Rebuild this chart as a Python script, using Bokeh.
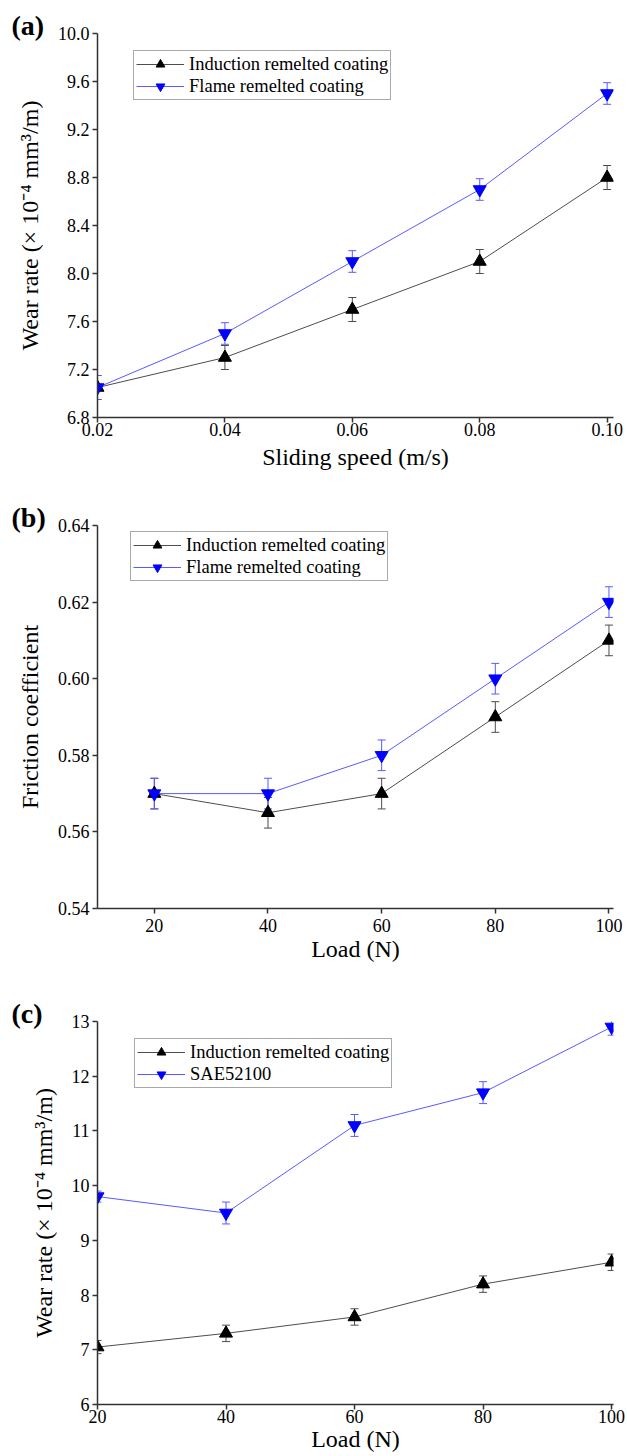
from bokeh.plotting import figure
from bokeh.models import (ColumnDataSource, Whisker, TeeHead, Legend, LegendItem, Title,
                          FixedTicker, PrintfTickFormatter, Range1d)
from bokeh.layouts import column
from bokeh.embed import file_html
from bokeh.resources import INLINE

SERIF = "'Liberation Serif', 'Times New Roman', serif"

# ---- data ----
speed = [0.02, 0.04, 0.06, 0.08, 0.10]
a_induction = [7.05, 7.30, 7.70, 8.10, 8.80]
a_induction_err = [0.10, 0.10, 0.10, 0.10, 0.10]
a_flame = [7.05, 7.50, 8.10, 8.70, 9.50]
a_flame_err = [0.10, 0.09, 0.09, 0.09, 0.09]
a_xticks = [0.02, 0.04, 0.06, 0.08, 0.10]
a_yticks = [6.8, 7.2, 7.6, 8.0, 8.4, 8.8, 9.2, 9.6, 10.0]

load = [20, 40, 60, 80, 100]
b_induction = [0.570, 0.565, 0.570, 0.590, 0.610]
b_induction_err = [0.004, 0.004, 0.004, 0.004, 0.004]
b_flame = [0.570, 0.570, 0.580, 0.600, 0.620]
b_flame_err = [0.004, 0.004, 0.004, 0.004, 0.004]
b_xticks = [20, 40, 60, 80, 100]
b_yticks = [0.54, 0.56, 0.58, 0.60, 0.62, 0.64]

c_induction = [7.05, 7.30, 7.60, 8.20, 8.60]
c_induction_err = [0.12, 0.15, 0.15, 0.15, 0.15]
c_sae = [9.80, 9.50, 11.10, 11.70, 12.90]
c_sae_err = [0.10, 0.20, 0.20, 0.20, 0.15]
c_xticks = [20, 40, 60, 80, 100]
c_yticks = [6, 7, 8, 9, 10, 11, 12, 13]

WEAR_LABEL = "Wear rate (\u00d7 10\u207b\u2074 mm\u00b3/m)"

BLACK_LINE = "#4d4d4d"
BLUE_LINE = "#5a5aff"
BLUE = "#0000ff"


def make_panel(x, y1, e1, y2, e2, name1, name2, xr, yr, xticks, yticks, xfmt, yfmt,
               xlabel, ylabel, tag, h, top, bottom, legend_xy, xstand, xlstand):
    p = figure(width=627, height=h, output_backend="svg", toolbar_location=None,
               x_range=Range1d(*xr), y_range=Range1d(*yr),
               min_border_left=97, min_border_right=14,
               min_border_top=top, min_border_bottom=bottom)
    p.grid.visible = False
    p.outline_line_color = None
    p.background_fill_color = "white"
    p.border_fill_color = "white"

    title = Title(text=tag, align="left", offset=-86, standoff=0,
                  text_font=SERIF, text_font_size="28px", text_font_style="bold",
                  text_color="black", vertical_align="bottom")
    try:
        title.standoff = -14
    except Exception:
        title.standoff = 0
    p.title = title

    for ax in (p.xaxis[0], p.yaxis[0]):
        ax.axis_line_color = "#333333"
        ax.axis_line_width = 1.5
        ax.major_tick_line_color = "#333333"
        ax.major_tick_line_width = 1.5
        ax.major_tick_in = 0
        ax.major_tick_out = 5
        ax.minor_tick_line_color = None
        ax.major_label_text_font = SERIF
        ax.major_label_text_font_size = "18px"
        ax.major_label_text_color = "black"
        ax.axis_label_text_font = SERIF
        ax.axis_label_text_font_size = "24px"
        ax.axis_label_text_font_style = "normal"
        ax.axis_label_text_color = "black"
    p.xaxis[0].ticker = FixedTicker(ticks=xticks)
    p.yaxis[0].ticker = FixedTicker(ticks=yticks)
    p.xaxis[0].formatter = PrintfTickFormatter(format=xfmt)
    p.yaxis[0].formatter = PrintfTickFormatter(format=yfmt)
    p.xaxis[0].major_label_standoff = xstand
    p.yaxis[0].major_label_standoff = 3
    p.xaxis[0].axis_label_standoff = xlstand
    p.yaxis[0].axis_label_standoff = 12
    p.xaxis[0].axis_label = xlabel
    p.yaxis[0].axis_label = ylabel

    renderers = []
    for vals, errs, lc, mc, marker in ((y1, e1, BLACK_LINE, "black", "triangle"),
                                       (y2, e2, BLUE_LINE, BLUE, "inverted_triangle")):
        src = ColumnDataSource(dict(x=x, y=vals,
                                    upper=[v + e for v, e in zip(vals, errs)],
                                    lower=[v - e for v, e in zip(vals, errs)]))
        w = Whisker(base="x", upper="upper", lower="lower", source=src, dimension="height",
                    line_color=lc, line_width=1, level="underlay",
                    upper_head=TeeHead(size=8, line_color=lc, line_width=1),
                    lower_head=TeeHead(size=8, line_color=lc, line_width=1))
        p.add_layout(w)
        ln = p.line("x", "y", source=src, line_color=lc, line_width=1)
        sc = p.scatter("x", "y", source=src, marker=marker, size=13,
                       fill_color=mc, line_color=mc)
        renderers.append([ln, sc])

    legend = Legend(items=[LegendItem(label=name1, renderers=renderers[0]),
                           LegendItem(label=name2, renderers=renderers[1])],
                    location=legend_xy, label_text_font=SERIF, label_text_font_size="18.5px",
                    label_text_color="black",
                    glyph_width=48, glyph_height=22, label_height=18, label_standoff=5,
                    spacing=0, padding=2, margin=0,
                    border_line_color="#555555", border_line_width=1,
                    background_fill_color="white", background_fill_alpha=1)
    p.add_layout(legend)
    return p


pa = make_panel(speed, a_induction, a_induction_err, a_flame, a_flame_err,
                "Induction remelted coating", "Flame remelted coating",
                (0.02, 0.101), (6.8, 10.0), a_xticks, a_yticks, "%.2f", "%.1f",
                "Sliding speed (m/s)", WEAR_LABEL, "(a)", 474, 33, 57, (36, 317), 0, 5)
pb = make_panel(load, b_induction, b_induction_err, b_flame, b_flame_err,
                "Induction remelted coating", "Flame remelted coating",
                (10, 100.8), (0.54, 0.64), b_xticks, b_yticks, "%d", "%.2f",
                "Load (N)", "Friction coefficient", "(b)", 492, 51, 58, (33, 327), 5, 1)
pc = make_panel(load, c_induction, c_induction_err, c_sae, c_sae_err,
                "Induction remelted coating", "SAE52100",
                (20, 100.3), (6, 13), c_xticks, c_yticks, "%d", "%d",
                "Load (N)", WEAR_LABEL, "(c)", 490, 55, 52, (37, 316), 0, 0)

layout = column(pa, pb, pc, spacing=0)
open("out.html", "w").write(file_html(layout, INLINE))
